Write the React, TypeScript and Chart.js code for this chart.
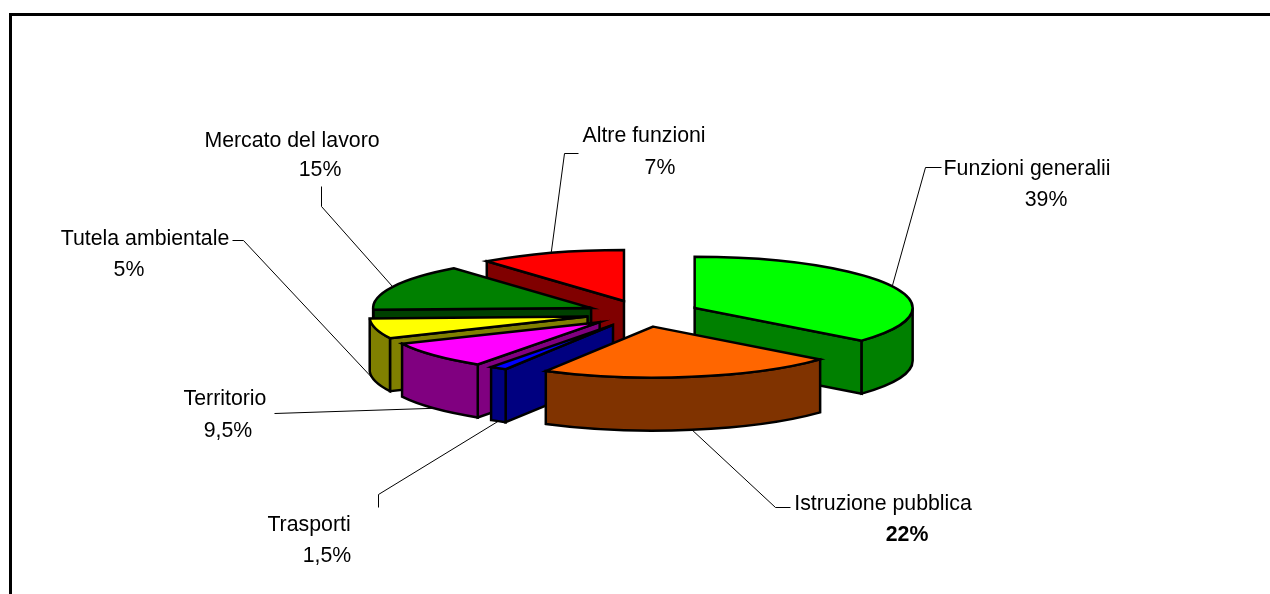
import React, { useEffect, useRef } from "react";
import { Chart, registerables } from "chart.js";

Chart.register(...registerables);

const categories = ["Funzioni generalii", "Istruzione pubblica", "Trasporti", "Territorio", "Tutela ambientale", "Mercato del lavoro", "Altre funzioni"];
// Slice sizes as they are actually drawn in the picture (degrees of the pie).
const sliceDegrees = [130, 79.5, 4.5, 31, 23, 53, 39];
// Percentages as they are printed on the labels.
const percentLabels = ["39%", "22%", "1,5%", "9,5%", "5%", "15%", "7%"];
const topColors = ["#00FF00", "#FF6600", "#0000FF", "#FF00FF", "#FFFF00", "#008000", "#FF0000"];
const sideColors = ["#008000", "#803300", "#000080", "#800080", "#808000", "#004000", "#800000"];
const boldPercent = [false, true, false, false, false, false, false];
const drawOrder = [6, 5, 4, 3, 2, 0, 1];

const TILT = 0.234;
const DEPTH = 53;
const RADIUS = 218;
const EXPLODE = 57;
const FONT = '"Liberation Sans", Arial, sans-serif';
const FONT_SIZE = 21.3;

// [name centre x, name y, percent centre x, percent y]
const labelPlacement = [
  [1027, 169, 1046, 200],
  [883, 504, 907, 535],
  [309, 525, 327, 556],
  [225, 399, 228, 431],
  [145, 239, 129, 270],
  [292, 141, 320, 170],
  [644, 136, 660, 168],
];
// Leader elbows, from the slice outward.
const leaderElbows = [
  [[925, 167], [941, 167]],
  [[775, 507], [790, 507]],
  [[378, 494], [378, 507]],
  [[274, 413]],
  [[243, 240], [232, 240]],
  [[321, 206], [321, 186]],
  [[564, 153], [578, 153]],
];

const pie3d = {
  id: "pie3d",
  beforeDatasetsDraw(chart: any) {
    const ctx = chart.ctx as CanvasRenderingContext2D;
    const arcs = chart.getDatasetMeta(0).data as any[];
    const geometry = arcs.map((el) => {
      const mid = (el.startAngle + el.endAngle) / 2;
      const d = el.options.offset;
      return {
        a0: el.startAngle,
        a1: el.endAngle,
        mid,
        r: el.outerRadius,
        cx: el.x + Math.cos(mid) * d,
        cy: el.y + Math.sin(mid) * d * TILT,
      };
    });
    const rim = (g: any, a: number, drop = 0): [number, number] => [
      g.cx + Math.cos(a) * g.r,
      g.cy + Math.sin(a) * g.r * TILT + drop,
    ];

    // Leader lines sit underneath the slices.
    ctx.save();
    ctx.strokeStyle = "#000";
    ctx.lineWidth = 1;
    geometry.forEach((g, i) => {
      const front = Math.sin(g.mid) > 0;
      const [x, y] = rim(g, g.mid, front ? DEPTH : 0);
      ctx.beginPath();
      ctx.moveTo(x, y);
      leaderElbows[i].forEach(([ex, ey]) => ctx.lineTo(ex + 0.5, ey + 0.5));
      ctx.stroke();
    });
    ctx.restore();

    ctx.save();
    ctx.lineWidth = 2.5;
    ctx.strokeStyle = "#000";
    ctx.lineJoin = "miter";
    const paint = (fill: string) => {
      ctx.closePath();
      ctx.fillStyle = fill;
      ctx.fill();
      ctx.stroke();
    };
    const radialFace = (g: any, a: number, fill: string) => {
      const [x, y] = rim(g, a);
      ctx.beginPath();
      ctx.moveTo(g.cx, g.cy);
      ctx.lineTo(x, y);
      ctx.lineTo(x, y + DEPTH);
      ctx.lineTo(g.cx, g.cy + DEPTH);
      paint(fill);
    };
    drawOrder.forEach((i) => {
      const g = geometry[i];
      if (Math.cos(g.a0) < 0) radialFace(g, g.a0, sideColors[i]);
      if (Math.cos(g.a1) > 0) radialFace(g, g.a1, sideColors[i]);
      const lo = Math.max(g.a0, 0);
      const hi = Math.min(g.a1, Math.PI);
      if (hi > lo) {
        ctx.beginPath();
        ctx.ellipse(g.cx, g.cy, g.r, g.r * TILT, 0, lo, hi);
        ctx.ellipse(g.cx, g.cy + DEPTH, g.r, g.r * TILT, 0, hi, lo, true);
        paint(sideColors[i]);
      }
      ctx.beginPath();
      ctx.moveTo(g.cx, g.cy);
      ctx.ellipse(g.cx, g.cy, g.r, g.r * TILT, 0, g.a0, g.a1);
      paint(topColors[i]);
    });
    ctx.restore();

    // Labels
    ctx.save();
    ctx.fillStyle = "#000";
    ctx.textAlign = "center";
    ctx.textBaseline = "middle";
    categories.forEach((name, i) => {
      const [nx, ny, px, py] = labelPlacement[i];
      ctx.font = `${FONT_SIZE}px ${FONT}`;
      ctx.fillText(name, nx, ny);
      ctx.font = `${boldPercent[i] ? "bold " : ""}${FONT_SIZE}px ${FONT}`;
      ctx.fillText(percentLabels[i], px, py);
    });
    ctx.restore();
    return false;
  },
  beforeDraw(chart: any) {
    const ctx = chart.ctx as CanvasRenderingContext2D;
    ctx.save();
    ctx.fillStyle = "#fff";
    ctx.fillRect(0, 0, chart.width, chart.height);
    ctx.strokeStyle = "#000";
    ctx.lineWidth = 3;
    ctx.beginPath();
    ctx.moveTo(10.5, chart.height);
    ctx.lineTo(10.5, 14.5);
    ctx.lineTo(chart.width, 14.5);
    ctx.stroke();
    ctx.restore();
  },
};

export default function App() {
  const ref = useRef<HTMLCanvasElement>(null);
  useEffect(() => {
    document.body.style.margin = "0";
    const chart = new Chart(ref.current as HTMLCanvasElement, {
      type: "pie",
      data: {
        labels: categories,
        datasets: [{ data: sliceDegrees, backgroundColor: topColors, borderWidth: 0, offset: EXPLODE }],
      },
      options: {
        animation: false,
        responsive: false,
        radius: RADIUS,
        layout: { padding: { left: 16, top: 33 } },
        plugins: { legend: { display: false }, tooltip: { enabled: false } },
      } as any,
      plugins: [pie3d],
    });
    return () => chart.destroy();
  }, []);
  return <canvas ref={ref} width={1270} height={594} style={{ display: "block" }} />;
}
